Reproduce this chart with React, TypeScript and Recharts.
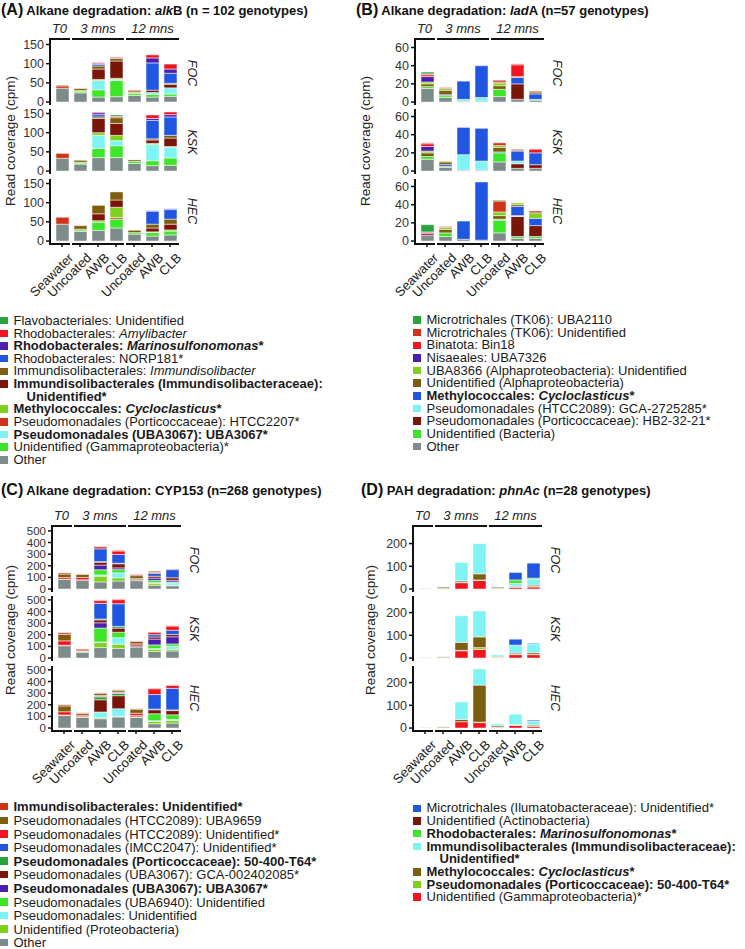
import { Bar, BarChart, XAxis, YAxis } from "recharts";

const FONT = "'Liberation Sans', Arial, Helvetica, sans-serif";

const GREEN = "#2ba23a";
const RED = "#f2151f";
const PURPLE = "#4a1fb0";
const BLUE = "#2157e0";
const OLIVE = "#7d5d0e";
const MAROON = "#7a1509";
const YGREEN = "#80d11f";
const ORANGE = "#d0321a";
const CYAN = "#80f4f4";
const BGREEN = "#3ee62a";
const GRAY = "#7d8b8b";

const CATEGORIES = ["Seawater", "Uncoated", "AWB", "CLB", "Uncoated", "AWB", "CLB"];
const TIME_GROUPS = [
  { label: "T0", start: 0, end: 1 },
  { label: "3 mns", start: 1, end: 4 },
  { label: "12 mns", start: 4, end: 7 },
];
const FACETS = ["FOC", "KSK", "HEC"];

type Taxon = { name: string; color: string; bold?: boolean };

// ---- (A) alkB ----
const ALKB_TAXA: Taxon[] = [
  { name: "Flavobacteriales: Unidentified", color: GREEN },
  { name: "Rhodobacterales: _Amylibacter_", color: RED },
  { name: "Rhodobacterales: _Marinosulfonomonas_*", color: PURPLE, bold: true },
  { name: "Rhodobacterales: NORP181*", color: BLUE },
  { name: "Immundisolibacterales: _Immundisolibacter_", color: OLIVE },
  { name: "Immundisolibacterales (Immundisolibacteraceae):\nUnidentified*", color: MAROON, bold: true },
  { name: "Methylococcales: _Cycloclasticus_*", color: YGREEN, bold: true },
  { name: "Pseudomonadales (Porticoccaceae): HTCC2207*", color: ORANGE },
  { name: "Pseudomonadales (UBA3067): UBA3067*", color: CYAN, bold: true },
  { name: "Unidentified (Gammaproteobacteria)*", color: BGREEN },
  { name: "Other", color: GRAY },
];
// rows follow the legend order, columns follow CATEGORIES
const ALKB_FOC = [
  [0, 0, 0, 0, 0, 0, 0],
  [0, 0, 2, 2, 2, 8, 13],
  [0, 0, 3, 1, 0, 13, 11],
  [0, 0, 4, 0, 0, 71, 26],
  [2, 5, 8, 7, 4, 0, 3],
  [0, 0, 27, 45, 0, 6, 9],
  [0, 3, 3, 3, 2, 0, 0],
  [6, 0, 0, 0, 1, 0, 0],
  [0, 0, 24, 3, 0, 5, 16],
  [0, 3, 19, 42, 5, 7, 6],
  [36, 24, 13, 14, 17, 13, 15],
];
const ALKB_KSK = [
  [0, 0, 0, 4, 0, 0, 0],
  [0, 0, 2, 3, 0, 9, 7],
  [0, 0, 5, 0, 0, 5, 6],
  [0, 0, 6, 0, 0, 48, 48],
  [0, 5, 4, 15, 4, 3, 7],
  [0, 0, 37, 31, 0, 9, 22],
  [0, 2, 7, 14, 0, 3, 2],
  [13, 0, 0, 0, 0, 0, 0],
  [0, 0, 34, 13, 0, 42, 28],
  [0, 3, 24, 31, 5, 13, 19],
  [33, 18, 35, 35, 20, 14, 15],
];
const ALKB_HEC = [
  [0, 0, 0, 0, 0, 0, 0],
  [0, 0, 0, 0, 0, 0, 0],
  [0, 0, 0, 0, 0, 1, 2],
  [0, 0, 0, 0, 0, 34, 25],
  [0, 9, 22, 21, 6, 10, 13],
  [0, 0, 18, 19, 0, 10, 15],
  [0, 0, 4, 27, 0, 2, 3],
  [18, 2, 0, 4, 0, 0, 0],
  [0, 0, 0, 0, 0, 0, 0],
  [0, 4, 21, 23, 4, 9, 10],
  [44, 25, 28, 34, 18, 13, 16],
];

// ---- (B) ladA ----
const LADA_TAXA: Taxon[] = [
  { name: "Microtrichales (TK06): UBA2110", color: GREEN },
  { name: "Microtrichales (TK06): Unidentified", color: ORANGE },
  { name: "Binatota: Bin18", color: RED },
  { name: "Nisaeales: UBA7326", color: PURPLE },
  { name: "UBA8366 (Alphaproteobacteria): Unidentified", color: YGREEN },
  { name: "Unidentified (Alphaproteobacteria)", color: OLIVE },
  { name: "Methylococcales: _Cycloclasticus_*", color: BLUE, bold: true },
  { name: "Pseudomonadales (HTCC2089): GCA-2725285*", color: CYAN },
  { name: "Pseudomonadales (Porticoccaceae): HB2-32-21*", color: MAROON },
  { name: "Unidentified (Bacteria)", color: BGREEN },
  { name: "Other", color: GRAY },
];
const LADA_FOC = [
  [2, 0, 0, 0, 0, 0, 0],
  [1, 1, 0, 0, 2, 1, 1],
  [2, 0, 0, 0, 1, 13, 0],
  [6, 0, 0, 0, 0, 0, 0],
  [2, 2, 0, 0, 3, 0, 0],
  [3, 5, 0, 0, 4, 1, 2],
  [0, 1, 20, 35, 0, 7, 6],
  [0, 0, 2, 4, 0, 0, 0],
  [0, 0, 0, 0, 0, 17, 0],
  [2, 2, 0, 0, 8, 0, 1],
  [15, 5, 1, 1, 6, 3, 2],
];
const LADA_KSK = [
  [0, 0, 0, 0, 0, 0, 0],
  [1, 0, 0, 0, 3, 1, 0],
  [3, 0, 0, 0, 0, 0, 4],
  [5, 0, 0, 0, 0, 0, 0],
  [2, 1, 0, 0, 2, 0, 0],
  [4, 3, 0, 0, 5, 1, 0],
  [0, 2, 30, 36, 1, 11, 13],
  [0, 0, 17, 10, 0, 3, 0],
  [0, 0, 0, 0, 0, 5, 4],
  [3, 1, 0, 0, 10, 0, 0],
  [13, 4, 1, 1, 10, 3, 3],
];
const LADA_HEC = [
  [8, 0, 0, 0, 1, 0, 0],
  [0, 1, 0, 0, 12, 0, 2],
  [1, 0, 0, 0, 0, 0, 0],
  [1, 0, 0, 0, 0, 0, 0],
  [0, 2, 0, 0, 4, 2, 6],
  [0, 4, 0, 0, 4, 2, 0],
  [0, 0, 20, 64, 0, 10, 8],
  [0, 0, 0, 0, 1, 1, 0],
  [2, 0, 0, 0, 0, 22, 12],
  [0, 4, 0, 0, 14, 2, 2],
  [6, 5, 2, 1, 9, 3, 3],
];

// ---- (C) CYP153 ----
const CYP_TAXA: Taxon[] = [
  { name: "Immundisolibacterales: Unidentified*", color: ORANGE, bold: true },
  { name: "Pseudomonadales (HTCC2089): UBA9659", color: OLIVE },
  { name: "Pseudomonadales (HTCC2089): Unidentified*", color: RED },
  { name: "Pseudomonadales (IMCC2047): Unidentified*", color: BLUE },
  { name: "Pseudomonadales (Porticoccaceae): 50-400-T64*", color: GREEN, bold: true },
  { name: "Pseudomonadales (UBA3067): GCA-002402085*", color: MAROON },
  { name: "Pseudomonadales (UBA3067): UBA3067*", color: PURPLE, bold: true },
  { name: "Pseudomonadales (UBA6940): Unidentified", color: BGREEN },
  { name: "Pseudomonadales: Unidentified", color: CYAN },
  { name: "Unidentified (Proteobacteria)", color: YGREEN },
  { name: "Other", color: GRAY },
];
const CYP_FOC = [
  [10, 5, 0, 6, 10, 0, 0],
  [30, 25, 3, 0, 25, 10, 0],
  [14, 20, 18, 30, 5, 8, 5],
  [0, 0, 110, 75, 0, 25, 70],
  [0, 0, 5, 5, 0, 0, 0],
  [0, 0, 25, 35, 10, 16, 21],
  [0, 0, 40, 15, 0, 20, 15],
  [0, 0, 45, 28, 0, 19, 8],
  [0, 0, 10, 42, 0, 5, 19],
  [3, 2, 50, 28, 3, 17, 6],
  [82, 78, 61, 69, 72, 33, 28],
];
const CYP_KSK = [
  [14, 8, 6, 6, 5, 0, 3],
  [55, 0, 0, 0, 20, 0, 0],
  [38, 10, 24, 35, 10, 20, 36],
  [0, 0, 134, 195, 0, 20, 36],
  [0, 0, 8, 15, 0, 0, 0],
  [0, 0, 25, 35, 14, 18, 20],
  [0, 0, 45, 0, 0, 50, 62],
  [0, 5, 120, 47, 0, 32, 20],
  [0, 0, 5, 56, 0, 5, 25],
  [4, 5, 43, 36, 3, 20, 15],
  [106, 50, 90, 83, 95, 56, 61],
];
const CYP_HEC = [
  [10, 6, 4, 4, 4, 5, 5],
  [50, 15, 18, 16, 35, 0, 0],
  [28, 12, 8, 6, 20, 50, 25],
  [0, 0, 5, 5, 0, 125, 185],
  [0, 0, 25, 20, 0, 6, 6],
  [0, 0, 105, 112, 10, 34, 36],
  [0, 0, 0, 0, 0, 0, 0],
  [0, 0, 0, 0, 0, 60, 40],
  [0, 0, 50, 66, 0, 6, 8],
  [4, 6, 8, 5, 5, 20, 23],
  [108, 92, 80, 95, 92, 37, 43],
];

// ---- (D) phnAc ----
const PHN_TAXA: Taxon[] = [
  { name: "Microtrichales (Ilumatobacteraceae): Unidentified*", color: BLUE },
  { name: "Unidentified (Actinobacteria)", color: MAROON },
  { name: "Rhodobacterales: _Marinosulfonomonas_*", color: BGREEN, bold: true },
  { name: "Immundisolibacterales (Immundisolibacteraceae):\nUnidentified*", color: CYAN, bold: true },
  { name: "Methylococcales: _Cycloclasticus_*", color: OLIVE, bold: true },
  { name: "Pseudomonadales (Porticoccaceae): 50-400-T64*", color: YGREEN, bold: true },
  { name: "Unidentified (Gammaproteobacteria)*", color: RED },
];
const PHN_FOC = [
  [0, 0, 0, 0, 0, 33, 66],
  [0, 0, 0, 0, 0, 0, 0],
  [0, 0, 0, 0, 0, 15, 5],
  [0, 1, 81, 133, 1, 12, 26],
  [1, 6, 6, 27, 5, 3, 6],
  [2, 2, 2, 2, 2, 2, 2],
  [0, 1, 28, 38, 2, 8, 9],
];
const PHN_KSK = [
  [0, 0, 0, 0, 0, 26, 3],
  [0, 0, 0, 0, 0, 0, 0],
  [0, 0, 0, 0, 0, 0, 0],
  [0, 1, 117, 114, 6, 35, 39],
  [1, 4, 35, 47, 3, 5, 7],
  [2, 2, 2, 8, 3, 2, 2],
  [0, 1, 32, 38, 2, 15, 15],
];
const PHN_HEC = [
  [0, 0, 0, 0, 0, 0, 4],
  [0, 0, 0, 0, 0, 0, 0],
  [0, 0, 0, 0, 0, 0, 0],
  [0, 0, 77, 71, 8, 45, 17],
  [1, 3, 10, 163, 6, 2, 4],
  [1, 2, 0, 2, 2, 2, 2],
  [0, 0, 28, 24, 2, 12, 8],
];

const ALKB_TICKS = [0, 50, 100, 150];
const LADA_TICKS = [0, 20, 40, 60];
const CYP_TICKS = [0, 100, 200, 300, 400, 500];
const PHN_TICKS = [0, 100, 200];

// layout
const YW = 40;
const PW = 129;
const PH = 65;
const STEP = 69.3;
const MT = 8;
const MB = 8;
const MR = 14;
const XH = 70;
const PAD_L = 3;

type Panel = {
  letter: string;
  title: string;
  taxa: Taxon[];
  facets: number[][][];
  ticks: number[];
  tickFont: number;
  originX: number;
  axisX: number;
  top: number;
  titleBaseline: number;
  labelY: number;
  legendX: number;
  legendY: number;
  legendStep: number;
};

const PANELS: Panel[] = [
  {
    letter: "(A)", title: "Alkane degradation: _alk_B (n = 102 genotypes)", taxa: ALKB_TAXA,
    facets: [ALKB_FOC, ALKB_KSK, ALKB_HEC], ticks: ALKB_TICKS, tickFont: 12.5,
    originX: 1, axisX: 50, top: 40, titleBaseline: 16, labelY: 141,
    legendX: 0, legendY: 320.7, legendStep: 12.65,
  },
  {
    letter: "(B)", title: "Alkane degradation: _lad_A (n=57 genotypes)", taxa: LADA_TAXA,
    facets: [LADA_FOC, LADA_KSK, LADA_HEC], ticks: LADA_TICKS, tickFont: 12.5,
    originX: 356, axisX: 415, top: 40, titleBaseline: 16, labelY: 141,
    legendX: 413, legendY: 320, legendStep: 12.65,
  },
  {
    letter: "(C)", title: "Alkane degradation: CYP153 (n=268 genotypes)", taxa: CYP_TAXA,
    facets: [CYP_FOC, CYP_KSK, CYP_HEC], ticks: CYP_TICKS, tickFont: 11.5,
    originX: 1, axisX: 52, top: 527, titleBaseline: 496, labelY: 630,
    legendX: 0, legendY: 806.7, legendStep: 13.6,
  },
  {
    letter: "(D)", title: "PAH degradation: _phnAc_ (n=28 genotypes)", taxa: PHN_TAXA,
    facets: [PHN_FOC, PHN_KSK, PHN_HEC], ticks: PHN_TICKS, tickFont: 12.5,
    originX: 361, axisX: 413, top: 527, titleBaseline: 496, labelY: 630,
    legendX: 413, legendY: 808.3, legendStep: 12.7,
  },
];

function rich(text: string) {
  return text.split("_").map((s, i) => (i % 2 ? <i key={i}>{s}</i> : <span key={i}>{s}</span>));
}

const XTick = (props: any) => {
  const { x, y, payload } = props;
  return (
    <g transform={`translate(${x + 5.5},${y + 3})`}>
      <text textAnchor="end" transform="rotate(-45)" dy="0.72em" fontSize={13} fill="#222" fontFamily={FONT}>
        {CATEGORIES[payload.value]}
      </text>
    </g>
  );
};

function Facet({ panel, rows, last, domain }: { panel: Panel; rows: number[][]; last: boolean; domain: number[] }) {
  const data = CATEGORIES.map((_, i) => {
    const d: Record<string, number> = { idx: i };
    panel.taxa.forEach((_, j) => (d["t" + j] = rows[j][i]));
    return d;
  });
  const order = panel.taxa.map((t, j) => ({ ...t, key: "t" + j })).reverse();
  return (
    <BarChart
      width={YW + PW + MR}
      height={MT + PH + (last ? XH : MB)}
      data={data}
      margin={{ top: MT, right: MR, left: 0, bottom: last ? 0 : MB }}
      barSize={13}
    >
      <XAxis
        dataKey="idx"
        type="category"
        hide={!last}
        height={XH}
        interval={0}
        padding={{ left: PAD_L, right: 0 }}
        axisLine={false}
        tickLine={{ stroke: "#111", strokeWidth: 1.5 }}
        tickSize={3}
        tick={<XTick />}
      />
      <YAxis
        width={YW}
        domain={domain}
        ticks={panel.ticks}
        interval={0}
        allowDataOverflow
        axisLine={{ stroke: "#111", strokeWidth: 2 }}
        tickLine={{ stroke: "#111", strokeWidth: 1.5 }}
        tickSize={4}
        tick={{ fill: "#333", fontSize: panel.tickFont, fontFamily: FONT }}
      />
      {order.map((t) => (
        <Bar key={t.key} dataKey={t.key} stackId="s" fill={t.color} stroke="#fff" strokeWidth={0.5} isAnimationActive={false} />
      ))}
    </BarChart>
  );
}

function groupSegments() {
  const band = (PW - PAD_L) / CATEGORIES.length;
  return TIME_GROUPS.map((g, i) => {
    const x0 = i === 0 ? -1 : PAD_L + g.start * band + 1;
    const x1 = i === TIME_GROUPS.length - 1 ? PW : PAD_L + g.end * band - 1;
    return { ...g, x0, x1 };
  });
}

function PanelView({ panel }: { panel: Panel }) {
  const totals = panel.facets.flatMap((rows) => CATEGORIES.map((_, i) => rows.reduce((s, r) => s + r[i], 0)));
  const max = Math.max(...totals);
  const domain = [-0.05 * max, 1.05 * max];
  const segs = groupSegments();
  const bottom = panel.top + 2 * STEP + PH;

  // legend rows (a "\n" in a name continues on an indented second row)
  let row = 0;
  const legend = panel.taxa.map((t, j) => {
    const lines = t.name.split("\n");
    const y = panel.legendY + row * panel.legendStep;
    row += lines.length;
    return (
      <div key={j}>
        <div
          style={{
            position: "absolute", left: panel.legendX, top: y - 3.8, width: 7.5, height: 7.5, background: t.color,
          }}
        />
        {lines.map((ln, k) => (
          <div
            key={k}
            style={{
              position: "absolute",
              left: panel.legendX + 13.5 + (k ? 13 : 0),
              top: y + k * panel.legendStep - panel.legendStep / 2 + 0.5,
              height: panel.legendStep - 0.5,
              lineHeight: `${panel.legendStep - 0.5}px`,
              fontSize: 13,
              fontWeight: t.bold ? "bold" : "normal",
              whiteSpace: "nowrap",
              color: "#1a1a1a",
            }}
          >
            {rich(ln)}
          </div>
        ))}
      </div>
    );
  });

  return (
    <>
      <div
        style={{
          position: "absolute", left: panel.originX, top: panel.titleBaseline - 15, lineHeight: "18px",
          fontWeight: "bold", whiteSpace: "nowrap", color: "#111",
        }}
      >
        <span style={{ fontSize: 16 }}>{panel.letter}</span>
        <span style={{ fontSize: 13 }}> {rich(panel.title)}</span>
      </div>

      <div
        style={{
          position: "absolute", left: panel.originX + 9, top: panel.labelY, fontSize: 13.5, color: "#222",
          whiteSpace: "nowrap", transform: "translate(-50%, -50%) rotate(-90deg)",
        }}
      >
        Read coverage (cpm)
      </div>

      {segs.map((s) => (
        <div key={s.label}>
          <div
            style={{
              position: "absolute", left: panel.axisX + (s.x0 + s.x1) / 2, top: panel.top - 18, lineHeight: "13px",
              fontSize: 13, fontStyle: "italic", color: "#222", whiteSpace: "nowrap", transform: "translateX(-50%)",
            }}
          >
            {s.label}
          </div>
          <div
            style={{
              position: "absolute", left: panel.axisX + s.x0, top: panel.top - 2, width: s.x1 - s.x0, height: 2, background: "#111",
            }}
          />
          <div
            style={{
              position: "absolute", left: panel.axisX + s.x0, top: bottom - 1, width: s.x1 - s.x0, height: 2, background: "#111",
            }}
          />
        </div>
      ))}

      {panel.facets.map((rows, f) => {
        const top = panel.top + f * STEP;
        return (
          <div key={f}>
            <div style={{ position: "absolute", left: panel.axisX - YW, top: top - MT }}>
              <Facet panel={panel} rows={rows} last={f === panel.facets.length - 1} domain={domain} />
            </div>
            <div
              style={{
                position: "absolute", left: panel.axisX + PW + 13, top: top + PH / 2, fontSize: 12.5, fontStyle: "italic",
                color: "#222", writingMode: "vertical-rl", transform: "translate(-50%, -50%)", whiteSpace: "nowrap",
              }}
            >
              {FACETS[f]}
            </div>
          </div>
        );
      })}

      {legend}
    </>
  );
}

export default function App() {
  return (
    <div
      style={{
        position: "absolute", left: 0, top: 0, width: 745, height: 949, background: "#fff", fontFamily: FONT, overflow: "hidden",
      }}
    >
      {PANELS.map((p) => (
        <PanelView key={p.letter} panel={p} />
      ))}
    </div>
  );
}
